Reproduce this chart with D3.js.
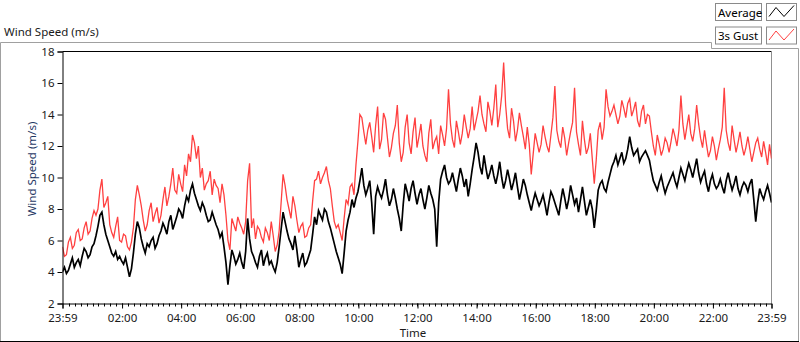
<!DOCTYPE html>
<html><head><meta charset="utf-8">
<script src="https://cdn.jsdelivr.net/npm/d3@7"></script>
<style>
body{margin:0;background:#fff;}
svg{display:block;font-family:"Noto Sans",sans-serif;}
</style></head>
<body><svg id="chart" width="800" height="342"></svg>
<script>
// ---- data ----
const chartTitle = "Wind Speed (m/s)";
const seriesNames = ["Average", "3s Gust"];
const seriesColors = ["#000000", "#ff4040"];
const startTime = "23:59";          // first sample
const sampleMinutes = 4;            // spacing of the samples below
const xTickLabels = ["23:59","02:00","04:00","06:00","08:00","10:00","12:00","14:00","16:00","18:00","20:00","22:00","23:59"];
const yTicks = [2,4,6,8,10,12,14,16,18];
const gust = [
5.6,5.0,5.1,5.9,6.2,5.5,5.7,6.5,6.7,6.0,6.1,6.8,7.2,6.4,6.6,7.4,7.9,7.6,8.0,9.2,9.9,8.1,8.4,8.8,7.0,6.5,6.2,6.9,7.5,6.0,5.9,6.4,6.3,5.6,5.4,5.9,6.8,8.6,9.5,
8.9,8.2,7.3,6.6,7.0,7.9,8.4,7.2,7.7,8.1,7.1,7.6,8.6,9.4,8.2,8.8,9.6,10.6,9.2,9.0,10.2,9.6,9.1,10.8,10.1,11.5,11.0,12.7,12.2,11.2,12.0,10.0,10.6,9.2,9.6,9.8,10.4,8.9,9.9,9.5,
9.3,8.4,9.6,8.9,7.6,6.0,5.4,7.4,7.0,6.6,7.5,7.1,6.8,6.4,7.2,9.8,10.9,6.8,7.4,6.1,6.9,6.7,6.2,5.9,6.8,6.5,6.0,7.2,6.3,5.3,5.7,6.6,8.4,10.2,9.5,8.6,8.0,7.4,8.8,8.2,
7.3,6.5,6.9,7.1,6.2,6.3,6.8,7.0,8.5,9.8,9.9,10.4,9.6,10.0,10.3,10.7,9.8,9.3,8.2,7.2,6.8,7.0,6.5,6.0,7.4,8.6,8.3,9.4,9.6,8.9,10.8,12.3,14.0,13.8,12.9,12.1,13.0,13.5,12.6,11.6,
13.3,14.5,11.8,12.4,14.1,13.7,12.5,11.3,11.9,12.8,13.3,14.6,12.2,11.0,11.6,13.2,14.0,12.2,11.5,12.9,13.8,11.9,12.6,13.4,12.0,11.4,11.0,12.8,13.7,11.8,12.3,12.6,11.5,13.3,12.7,12.0,13.1,15.6,13.4,12.4,
11.9,13.6,12.9,12.1,12.8,14.0,13.2,12.5,13.1,14.5,13.0,13.6,14.2,15.2,14.0,13.4,12.9,14.8,14.2,13.3,14.4,15.9,13.2,14.0,15.2,17.3,14.6,13.1,12.5,14.4,13.6,12.3,13.0,14.1,13.3,12.6,11.8,13.2,12.1,10.2,
11.5,12.8,12.2,11.6,12.1,13.3,12.6,12.0,11.6,12.7,13.8,15.8,13.0,12.3,11.9,13.2,12.5,11.4,12.2,12.9,13.5,15.7,12.9,12.1,11.4,13.6,12.4,11.5,11.9,12.8,11.2,9.6,11.1,13.0,13.5,12.4,13.2,15.6,14.5,13.9,
14.2,14.6,14.0,13.4,13.9,14.9,14.4,13.8,14.7,15.0,13.9,14.3,14.8,13.6,13.2,14.2,14.6,13.4,14.0,13.9,12.9,12.0,11.4,12.7,12.1,11.4,11.8,12.5,12.2,11.6,12.3,13.1,12.6,12.0,13.0,15.2,13.4,12.4,13.2,14.0,
12.8,12.3,13.1,14.6,13.4,12.5,11.9,13.0,12.1,11.3,11.7,12.6,12.0,11.1,11.8,12.4,13.2,15.7,13.0,12.2,11.7,13.3,12.4,11.6,12.2,12.9,12.0,11.4,11.9,12.6,11.8,11.0,11.6,12.2,12.5,11.8,11.3,12.3,11.6,10.8,12.1,11.2];
const average = [
4.0,4.3,3.9,4.1,4.5,4.9,4.3,4.6,4.8,4.4,5.0,5.5,5.3,4.9,5.1,5.6,5.8,6.3,6.9,7.6,7.8,7.0,6.4,6.0,5.6,5.2,5.0,5.3,4.8,5.0,4.7,4.5,4.9,4.3,3.7,4.2,5.2,6.4,7.2,
6.8,6.1,5.6,5.2,5.8,5.6,6.0,6.2,5.5,5.8,6.3,6.6,7.1,6.8,6.4,7.2,7.6,6.7,7.1,7.5,8.0,7.8,7.4,8.2,8.8,8.5,9.2,9.6,9.0,8.6,8.2,7.9,8.4,8.1,7.6,7.2,7.3,7.8,7.4,7.0,
6.7,6.2,6.5,5.6,4.6,3.2,4.4,5.4,5.0,4.5,4.8,5.2,4.6,4.2,5.3,7.4,6.1,5.3,5.0,4.6,4.3,5.0,5.4,4.4,4.9,5.2,4.5,4.7,4.3,4.0,4.6,5.6,6.7,7.8,7.2,6.6,6.1,5.8,5.4,6.3,
5.4,4.3,4.8,5.2,4.4,4.6,5.0,5.4,6.4,7.5,7.0,7.9,7.6,7.3,8.0,7.8,7.2,6.8,6.3,5.8,5.3,4.9,4.5,3.9,5.2,6.6,7.3,7.8,8.6,8.1,8.7,9.1,9.8,10.6,9.5,8.9,9.3,9.8,8.4,6.4,
8.8,9.4,9.0,8.7,9.2,9.9,8.9,8.2,8.6,9.3,8.7,8.0,7.4,6.6,8.3,9.6,9.1,8.5,9.3,9.8,9.0,8.3,8.9,9.3,8.6,8.0,8.7,9.5,9.0,8.6,8.0,5.6,8.4,9.9,10.4,10.8,10.0,9.6,9.8,10.3,
9.7,9.1,9.9,10.6,10.1,9.4,9.9,8.8,9.6,10.5,11.3,12.2,11.6,10.7,10.2,11.4,10.6,9.9,10.3,10.8,10.1,9.6,10.2,11.0,10.0,9.3,9.8,10.5,9.9,9.2,9.7,10.3,9.4,8.6,9.2,9.9,9.5,8.9,8.4,7.9,
8.5,9.0,8.6,8.2,8.5,8.9,8.3,7.6,8.4,9.1,8.8,8.4,8.0,7.6,8.5,9.3,8.7,8.0,8.6,9.5,8.9,8.3,8.7,7.8,8.6,9.4,8.5,7.6,8.1,8.6,8.0,6.8,7.9,9.2,9.6,9.8,9.3,9.1,9.7,10.2,
10.7,11.0,11.4,10.8,11.2,11.6,10.9,11.2,11.8,12.6,11.9,11.4,11.6,11.8,11.0,11.3,11.5,11.7,11.4,11.1,10.4,9.8,9.5,9.2,9.7,10.1,9.5,9.0,9.4,9.7,10.0,10.3,9.8,9.4,10.0,10.6,10.2,9.8,10.4,10.9,
10.5,10.0,10.6,11.2,10.3,9.7,10.1,10.4,9.6,9.1,9.8,10.2,9.6,9.3,9.5,9.9,9.4,9.0,9.8,10.3,9.7,9.2,9.6,10.1,9.3,8.9,9.4,9.7,9.5,9.1,9.6,9.9,8.6,7.2,8.4,9.3,8.9,8.6,9.1,9.5,9.0,8.4];

// ---- layout ----
const svg = d3.select("#chart");
const plot = {l: 62.5, r: 771.5, t: 51.5, b: 303.5};

const [sh, sm] = startTime.split(":").map(Number);
const t0 = new Date(2000, 0, 1, sh, sm);
const t1 = d3.timeMinute.offset(t0, 24 * 60);
const x = d3.scaleTime().domain([t0, t1]).range([plot.l, plot.r]);
const y = d3.scaleLinear().domain([2, 18]).range([plot.b, plot.t]);
const timeAt = i => d3.timeMinute.offset(t0, i * sampleMinutes);

// outer frame
svg.append("path")
  .attr("d", `M0.5,341.5 V42.5 H711.5 V48.5 H798.5 V341.5 Z`)
  .attr("fill", "none").attr("stroke", "#a0a0a0");
svg.append("line").attr("x1", 0).attr("x2", 799).attr("y1", 341.5).attr("y2", 341.5).attr("stroke", "#000");

// title
svg.append("text").attr("x", 4).attr("y", 36).attr("font-size", 11.5).attr("fill", "#1a1a1a").text(chartTitle);

// legend
seriesNames.forEach((name, k) => {
  const ly = 3.5 + k * 23.5;
  const g = svg.append("g");
  g.append("rect").attr("x", 715.5).attr("y", ly).attr("width", 46).attr("height", 17)
    .attr("fill", "#fff").attr("stroke", "#8a8a8a");
  g.append("text").attr("x", 718).attr("y", ly + 13).attr("font-size", 11.5).attr("fill", "#000").text(name);
  g.append("rect").attr("x", 766.5).attr("y", ly).attr("width", 30).attr("height", 17)
    .attr("fill", "#fff").attr("stroke", "#8a8a8a");
  g.append("polyline")
    .attr("points", [[769, ly + 13], [776, ly + 4], [784, ly + 13], [794, ly + 2]].map(p => p.join(",")).join(" "))
    .attr("fill", "none").attr("stroke", seriesColors[k]).attr("stroke-width", 1);
});

// plot frame
svg.append("line").attr("x1", plot.l).attr("x2", plot.r).attr("y1", plot.t).attr("y2", plot.t).attr("stroke", "#000");
svg.append("line").attr("x1", plot.r).attr("x2", plot.r).attr("y1", plot.t).attr("y2", plot.b).attr("stroke", "#909090");

// series
const line = d3.line().x((d, i) => x(timeAt(i))).y(d => y(d));
svg.append("clipPath").attr("id", "clip").append("rect")
  .attr("x", plot.l).attr("y", plot.t).attr("width", plot.r - plot.l).attr("height", plot.b - plot.t);
const series = svg.append("g").attr("clip-path", "url(#clip)");
series.append("path").datum(gust).attr("d", line).attr("fill", "none")
  .attr("stroke", seriesColors[1]).attr("stroke-width", 1.3);
series.append("path").datum(average).attr("d", line).attr("fill", "none")
  .attr("stroke", seriesColors[0]).attr("stroke-width", 1.7);

// y axis
const yAxis = svg.append("g").attr("transform", `translate(${plot.l},0)`)
  .call(d3.axisLeft(y).tickValues(yTicks).tickSize(5).tickPadding(3).tickFormat(d3.format("d")));
yAxis.select(".domain").attr("stroke", "#000");
yAxis.selectAll("text").attr("font-size", 11.5).attr("fill", "#1a1a1a").attr("font-family", "Noto Sans");

// x axis: major ticks
const majorTimes = xTickLabels.map((lab, i) => {
  if (i === 0) return t0;
  if (i === xTickLabels.length - 1) return t1;
  const [h, m] = lab.split(":").map(Number);
  return new Date(2000, 0, 2, h, m);
});
const xAxis = svg.append("g").attr("transform", `translate(0,${plot.b})`)
  .call(d3.axisBottom(x).tickValues(majorTimes).tickSize(5).tickPadding(5)
    .tickFormat((d, i) => xTickLabels[i]));
xAxis.select(".domain").attr("stroke", "#000");
xAxis.selectAll("text").attr("font-size", 11.5).attr("fill", "#1a1a1a").attr("font-family", "Noto Sans");
// minor ticks every 12 minutes
const minor = d3.timeMinute.every(12).range(d3.timeMinute.offset(t0, 3), d3.timeMinute.offset(t1, -3));
svg.append("g").selectAll("line").data(minor).join("line")
  .attr("x1", d => Math.round(x(d)) + 0.5).attr("x2", d => Math.round(x(d)) + 0.5)
  .attr("y1", plot.b).attr("y2", plot.b + 3).attr("stroke", "#000");

// axis titles
svg.append("text").attr("x", 413).attr("y", 337).attr("text-anchor", "middle")
  .attr("font-size", 11.5).attr("fill", "#1a1a1a").text("Time");
svg.append("text").attr("transform", "translate(36,169) rotate(-90)").attr("text-anchor", "middle")
  .attr("font-size", 11.5).attr("fill", "#1f3864").text(chartTitle);
</script></body></html>
